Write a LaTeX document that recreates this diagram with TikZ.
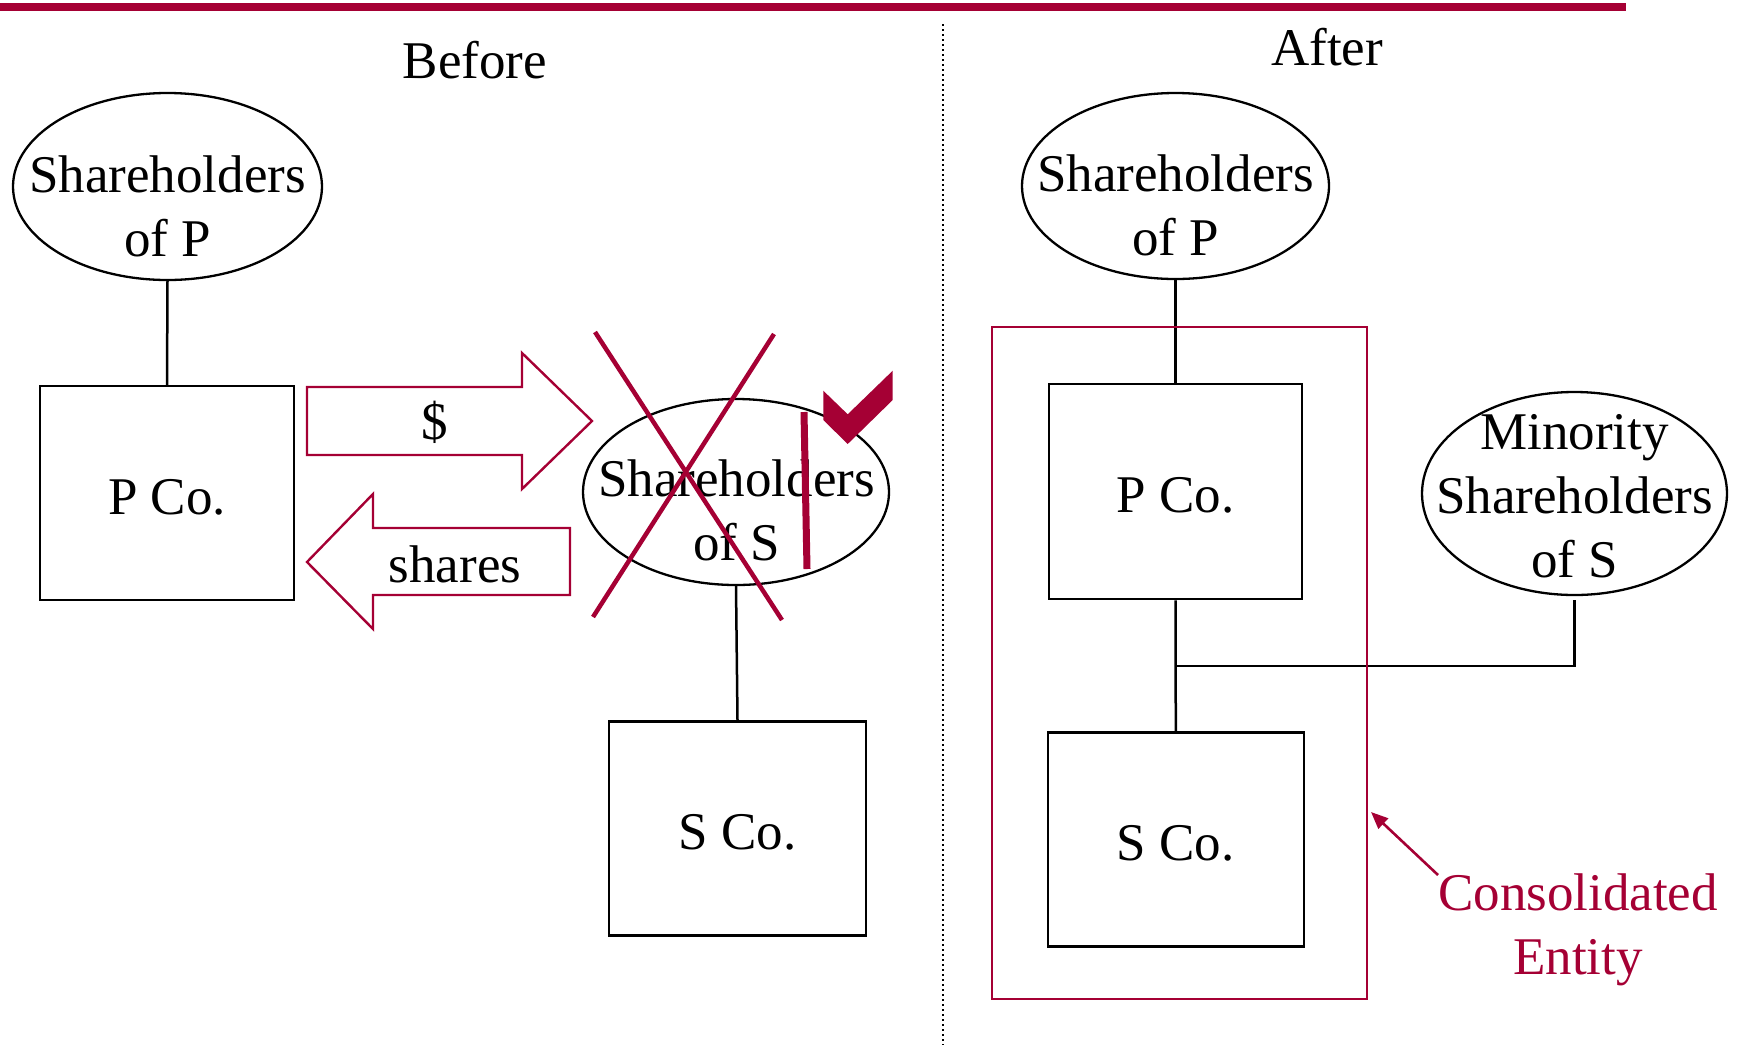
\documentclass[tikz,border=0pt]{standalone}
\usepackage{fontspec}
\setmainfont{Liberation Serif}
\usetikzlibrary{shapes.geometric,arrows.meta}
\definecolor{crim}{RGB}{165,0,52}
\begin{document}
\begin{tikzpicture}[x=1pt,y=-1pt,
  txt/.style={font=\fontsize{53}{64}\selectfont, align=center, inner sep=0pt},
  oval/.style={draw, ellipse, line width=2.3pt, inner sep=0pt},
  box/.style={draw, rectangle, line width=2.5pt, inner sep=0pt, text height=42pt, text depth=0pt, font=\fontsize{53}{64}\selectfont},
  conn/.style={line width=2.5pt},
  fat/.style={draw=crim, line width=2.4pt, line join=miter},
  cross/.style={crim, line width=4.5pt},
]
\useasboundingbox (0,0) rectangle (1740,1045);
% top bar and divider
\draw[crim, line width=8pt] (0,7) -- (1626,7);
\draw[line width=1.5pt, dash pattern=on 2pt off 3pt] (943,24) -- (943,1045);
\node[txt] (before) at (475,60) {Before};
\node[txt] (after) at (1327,47) {After};

% ---------- Before ----------
\node[oval, minimum width=309pt, minimum height=187pt] (lsp) at (167.5,186.5) {};
\node[txt] (lspt) at (167.5,206) {Shareholders\\of P};
\node[box, minimum width=254pt, minimum height=214pt] (lpco) at (167,493) {P Co.};
\draw[conn] (lsp.south) -- (lpco.north);

% fat arrows
\draw[fat] (307,387) -- (522,387) -- (522,353) -- (592,421) -- (522,489) -- (522,455) -- (307,455) -- cycle;
\node[txt] (dollar) at (435,422) {\$};
\draw[fat] (570,528) -- (373,528) -- (373,494) -- (307,562) -- (373,629) -- (373,595) -- (570,595) -- cycle;
\node[txt] (shares) at (455,564) {shares};

\node[oval, minimum width=306pt, minimum height=186pt] (lss) at (736,492) {};
\node[txt] (lsst) at (736.5,510) {Shareholders\\of S};
\node[box, minimum width=257pt, minimum height=214pt] (lsco) at (737.5,828.5) {S Co.};
\draw[conn] (lss.south) -- (lsco.north);

% cross, bar and check
\draw[cross] (595,332) -- (782,620);
\draw[cross] (774,334) -- (593,617);
\draw[crim, line width=7pt] (804,412) -- (807,569);
\fill[crim] (823.3,390.7) -- (847.7,414.3) -- (892.7,370.7) -- (892.7,400) -- (847.7,444) -- (823.3,420) -- cycle;

% ---------- After ----------
\node[oval, minimum width=307pt, minimum height=186pt] (rsp) at (1175.5,186) {};
\node[txt] (rspt) at (1175.5,205.5) {Shareholders\\of P};
\node[box, minimum width=253pt, minimum height=215pt] (rpco) at (1175.5,491.5) {P Co.};
\node[box, minimum width=256pt, minimum height=214pt] (rsco) at (1175.8,839.5) {S Co.};
\draw[conn] (rsp.south) -- (rpco.north);
\draw[conn] (rpco.south) -- (rsco.north);

\node[oval, minimum width=305pt, minimum height=203pt] (mss) at (1574.5,493.5) {};
\node[txt] (msst) at (1574.5,496) {Minority\\Shareholders\\of S};
\coordinate (jn) at (1175.5,666);
\coordinate (mbot) at (1574.5,600);
\draw[conn] (mbot) -- (mbot |- jn) -- (jn);

\draw[crim, line width=2.5pt] (992,327) rectangle (1367,999);
\node[txt, text=crim] (cons) at (1578,930) {Consolidated\\Entity};
\coordinate (ctip) at (1371,812);
\draw[crim, line width=2.6pt, -{Triangle[length=17pt,width=14pt]}] (1438,875) -- (ctip);
\end{tikzpicture}
\end{document}
